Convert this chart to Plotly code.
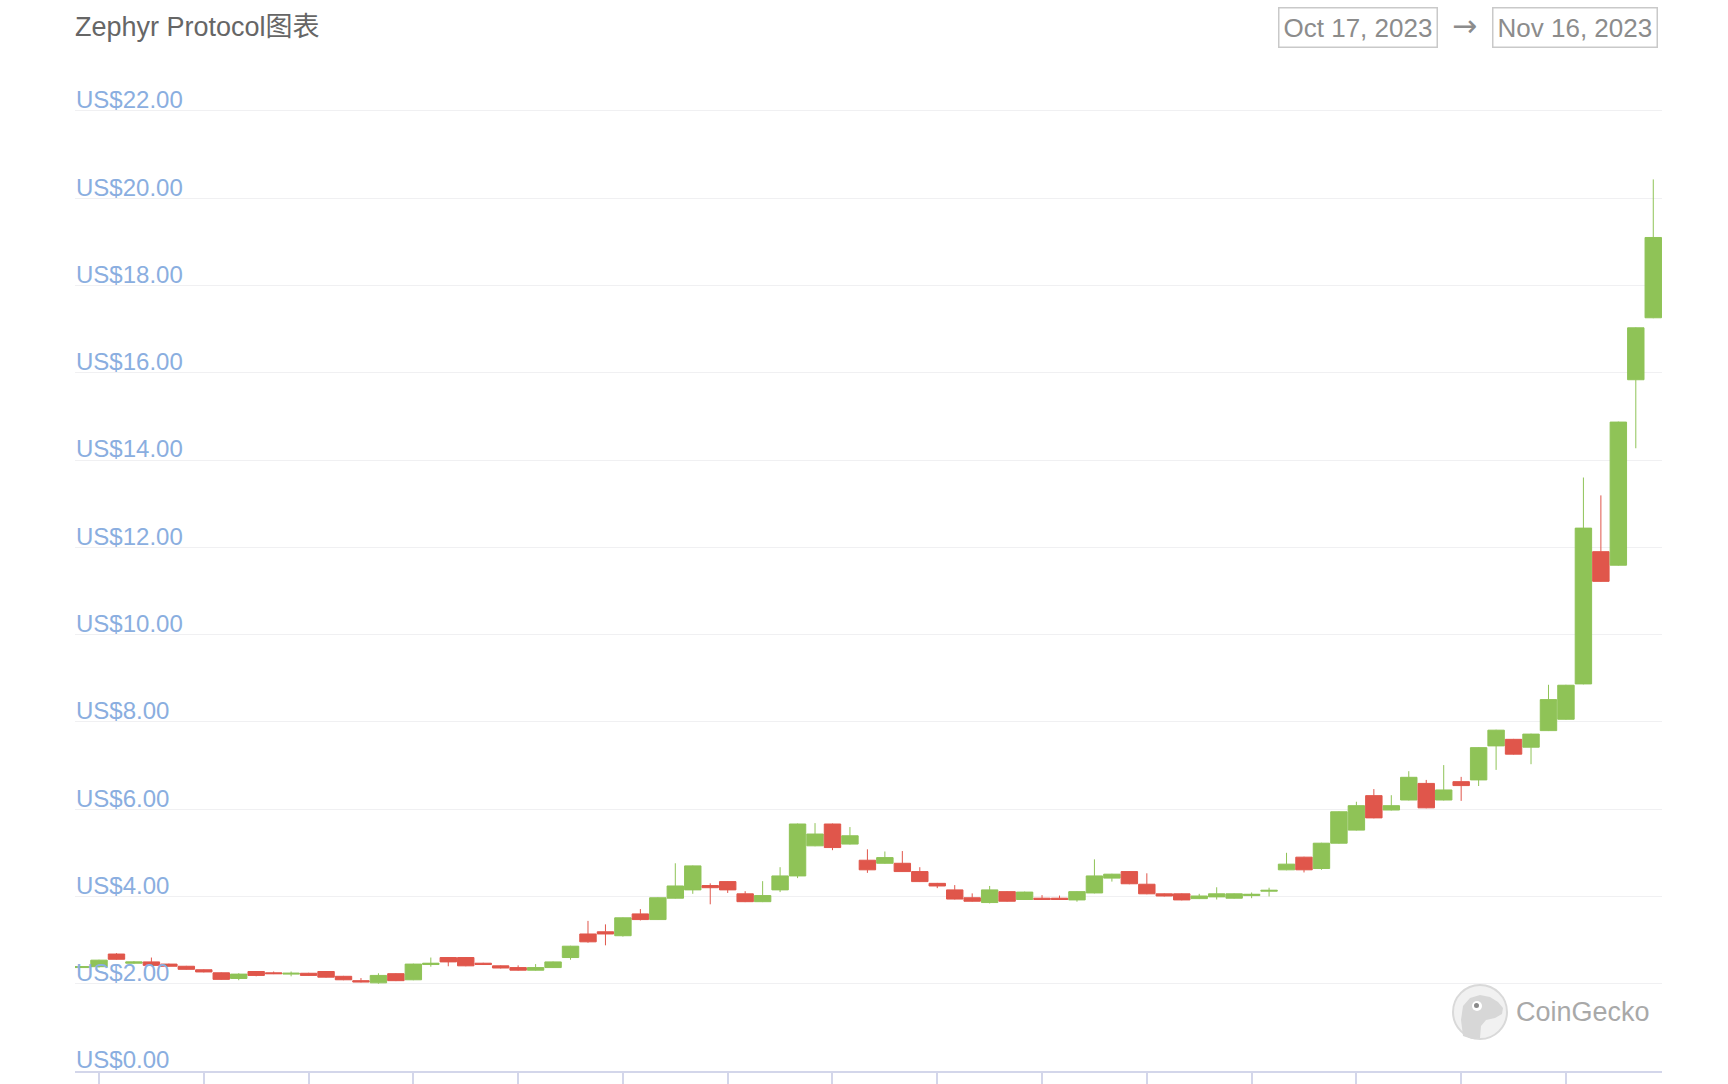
import pandas as pd
import plotly.graph_objects as go

# ---------------- data ----------------
start_time = "2023-10-16 16:00"
n_candles = 91
dates = pd.date_range(start_time, periods=n_candles, freq="8h")
x_tick_dates = pd.date_range("2023-10-17", periods=15, freq="2D")

opens = [2.37, 2.39, 2.68, 2.47, 2.50, 2.45, 2.40, 2.32, 2.25, 2.12,
         2.28, 2.25, 2.22, 2.24, 2.28, 2.17, 2.07, 2.02, 2.23, 2.09,
         2.44, 2.60, 2.60, 2.47, 2.41, 2.37, 2.31, 2.37, 2.60, 3.14,
         3.19, 3.10, 3.60, 3.47, 3.96, 4.15, 4.25, 4.34, 4.06, 3.88,
         4.15, 4.47, 5.16, 5.66, 5.20, 4.83, 4.76, 4.76, 4.57, 4.30,
         4.15, 3.97, 3.86, 4.11, 3.93, 3.96, 3.96, 3.92, 4.08, 4.42,
         4.57, 4.28, 4.06, 4.06, 3.95, 3.99, 3.96, 4.02, 4.12, 4.61,
         4.90, 4.64, 5.22, 5.52, 6.31, 5.98, 6.21, 6.59, 6.21, 6.63,
         6.67, 7.45, 7.60, 7.42, 7.80, 8.06, 8.87, 11.90, 11.59, 15.84,
         17.26]
highs = [2.40, 2.55, 2.70, 2.52, 2.60, 2.46, 2.41, 2.33, 2.26, 2.24,
         2.29, 2.28, 2.28, 2.25, 2.29, 2.18, 2.13, 2.24, 2.24, 2.46,
         2.60, 2.61, 2.61, 2.48, 2.42, 2.42, 2.45, 2.51, 2.87, 3.44,
         3.36, 3.52, 3.71, 3.98, 4.76, 4.71, 4.30, 4.35, 4.12, 4.35,
         4.67, 5.67, 5.68, 5.67, 5.59, 5.08, 5.03, 5.04, 4.67, 4.31,
         4.26, 4.07, 4.24, 4.12, 4.11, 4.03, 4.02, 4.12, 4.85, 4.52,
         4.58, 4.53, 4.07, 4.07, 4.06, 4.21, 4.07, 4.09, 4.20, 5.00,
         4.91, 5.23, 5.95, 6.17, 6.46, 6.32, 6.87, 6.67, 7.01, 6.74,
         7.42, 7.82, 7.61, 7.73, 8.85, 8.85, 13.60, 13.19, 14.88, 17.04,
         20.43]
lows = [2.36, 2.37, 2.55, 2.45, 2.40, 2.39, 2.32, 2.26, 2.09, 2.08,
        2.17, 2.22, 2.17, 2.18, 2.14, 2.08, 2.03, 2.00, 2.06, 2.08,
        2.39, 2.40, 2.40, 2.43, 2.35, 2.30, 2.30, 2.36, 2.55, 2.94,
        2.88, 3.08, 3.45, 3.46, 3.95, 4.06, 3.82, 4.08, 3.87, 3.87,
        4.10, 4.42, 5.15, 5.06, 5.19, 4.54, 4.75, 4.56, 4.33, 4.19,
        3.93, 3.88, 3.84, 3.88, 3.92, 3.92, 3.92, 3.88, 4.07, 4.34,
        4.28, 4.05, 4.00, 3.91, 3.94, 3.93, 3.95, 3.96, 4.00, 4.60,
        4.55, 4.61, 5.21, 5.51, 5.79, 5.97, 6.20, 6.02, 6.20, 6.19,
        6.53, 6.90, 7.25, 7.03, 7.79, 8.05, 8.86, 11.21, 11.58, 14.27,
        17.25]
closes = [2.39, 2.54, 2.56, 2.50, 2.42, 2.40, 2.33, 2.27, 2.10, 2.22,
          2.19, 2.23, 2.24, 2.19, 2.15, 2.09, 2.04, 2.19, 2.07, 2.45,
          2.47, 2.50, 2.41, 2.44, 2.36, 2.31, 2.37, 2.50, 2.86, 2.96,
          3.14, 3.51, 3.47, 3.97, 4.24, 4.70, 4.20, 4.15, 3.88, 4.02,
          4.47, 5.66, 5.43, 5.12, 5.39, 4.61, 4.89, 4.57, 4.34, 4.24,
          3.94, 3.89, 4.15, 3.89, 4.10, 3.93, 3.93, 4.11, 4.47, 4.51,
          4.29, 4.06, 4.01, 3.92, 4.01, 4.06, 4.06, 4.05, 4.14, 4.74,
          4.61, 5.22, 5.94, 6.08, 5.80, 6.08, 6.73, 6.03, 6.44, 6.54,
          7.41, 7.81, 7.26, 7.72, 8.51, 8.84, 12.44, 11.22, 14.87, 17.03,
          19.10]

y_tick_values = [0, 2, 4, 6, 8, 10, 12, 14, 16, 18, 20, 22]
y_tick_text = ["US$0.00", "US$2.00", "US$4.00", "US$6.00", "US$8.00", "US$10.00",
               "US$12.00", "US$14.00", "US$16.00", "US$18.00", "US$20.00", "US$22.00"]
title_text = "Zephyr Protocol图表"
date_from = "Oct 17, 2023"
date_to = "Nov 16, 2023"
brand = "CoinGecko"

# ---------------- layout helpers ----------------
W, H = 1728, 1084
L, R, T, B = 75, 66, 60, 13
PX_PER_UNIT = 43.64
plot_h = H - T - B
plot_w = W - L - R
y_top = plot_h / PX_PER_UNIT


def px_x(px):
    return (px - L) / plot_w


def px_y(py):
    return (H - B - py) / plot_h


UP = "#8fc357"
DOWN = "#e0564b"
FONT = "Liberation Sans, Arial, Noto Sans CJK SC, sans-serif"

fig = go.Figure(
    go.Candlestick(
        x=dates, open=opens, high=highs, low=lows, close=closes,
        increasing=dict(line=dict(color=UP, width=1), fillcolor=UP),
        decreasing=dict(line=dict(color=DOWN, width=1), fillcolor=DOWN),
        whiskerwidth=0,
        hoverinfo="x+y",
        showlegend=False,
    )
)

x_left = pd.Timestamp(start_time) - pd.Timedelta(hours=3)
x_right = dates[-1] + pd.Timedelta(hours=4)

fig.update_layout(
    width=W, height=H,
    margin=dict(l=L, r=R, t=T, b=B, autoexpand=False),
    paper_bgcolor="white", plot_bgcolor="white",
    font=dict(family=FONT),
    boxgap=0.06, boxgroupgap=0.0,
    xaxis=dict(
        type="date",
        range=[x_left, x_right],
        rangeslider=dict(visible=False),
        automargin=False,
        showgrid=False, zeroline=False,
        showline=True, linecolor="#d3d6ea", linewidth=1.5,
        ticks="outside", ticklen=16, tickwidth=1.5, tickcolor="#d3d6ea",
        tickmode="array", tickvals=x_tick_dates,
        showticklabels=False,
    ),
    yaxis=dict(
        range=[0, y_top],
        automargin=False,
        tickmode="array", tickvals=y_tick_values, ticktext=y_tick_text,
        showgrid=True, gridcolor="#f0f0f2", gridwidth=1,
        zeroline=False, showline=False, ticks="",
        ticklabelposition="inside",
        ticklabeloverflow="allow",
        ticklabelshift=-11,
        ticklabelstandoff=-2,
        tickfont=dict(size=24, color="#8aaee0", family=FONT),
    ),
)

annotations = [
    dict(text=title_text, x=px_x(73), y=px_y(27), xref="paper", yref="paper",
         xanchor="left", yanchor="middle", showarrow=False,
         font=dict(size=27, color="#666666", family=FONT)),
    dict(text=date_from, x=px_x(1357.5), y=px_y(27), xref="paper", yref="paper",
         xanchor="center", yanchor="middle", showarrow=False,
         bordercolor="#c9c9c9", borderwidth=1.5, borderpad=4,
         font=dict(size=26, color="#8c8c8c", family=FONT)),
    dict(text="→", x=px_x(1464), y=px_y(25), xref="paper", yref="paper",
         xanchor="center", yanchor="middle", showarrow=False,
         font=dict(size=30, color="#8c8c8c", family="DejaVu Sans")),
    dict(text=date_to, x=px_x(1575), y=px_y(27), xref="paper", yref="paper",
         xanchor="center", yanchor="middle", showarrow=False,
         bordercolor="#c9c9c9", borderwidth=1.5, borderpad=4,
         font=dict(size=26, color="#8c8c8c", family=FONT)),
    dict(text=brand, x=px_x(1514), y=px_y(1012), xref="paper", yref="paper",
         xanchor="left", yanchor="middle", showarrow=False,
         font=dict(size=27, color="#a9a9a9", family=FONT)),
]
fig.update_layout(annotations=annotations)

# CoinGecko logo (watermark)
cx, cy, r = 1480, 1012, 27


def circle(x, y, rad, **kw):
    return dict(type="circle", xref="paper", yref="paper",
                x0=px_x(x - rad), x1=px_x(x + rad),
                y0=px_y(y + rad), y1=px_y(y - rad), layer="above", **kw)


def path_from(points):
    parts = []
    for i, (px, py) in enumerate(points):
        parts.append(("M" if i == 0 else "L") + f"{px_x(px):.5f},{px_y(py):.5f}")
    return " ".join(parts) + " Z"


head_pts = [(1463, 1036), (1461, 1020), (1463, 1006), (1470, 998), (1480, 995),
            (1490, 997), (1498, 1002), (1503, 1008), (1502, 1014), (1495, 1018),
            (1486, 1020), (1481, 1026), (1480, 1038), (1472, 1039)]

shapes = [
    circle(cx, cy, r, line=dict(color="#d9d9d9", width=2), fillcolor="#f1f1f1"),
    dict(type="path", xref="paper", yref="paper", path=path_from(head_pts),
         fillcolor="#d7d7d7", line=dict(width=0), layer="above"),
    circle(1477, 1006, 5, line=dict(width=0), fillcolor="#ffffff"),
    circle(1476.5, 1005.5, 2.5, line=dict(width=0), fillcolor="#8a8a8a"),
]
fig.update_layout(shapes=shapes)

fig.write_html(
    "out.html",
    config={"displayModeBar": False},
    post_script="document.body.style.margin='0';document.body.style.padding='0';document.body.style.overflow='hidden';",
)
